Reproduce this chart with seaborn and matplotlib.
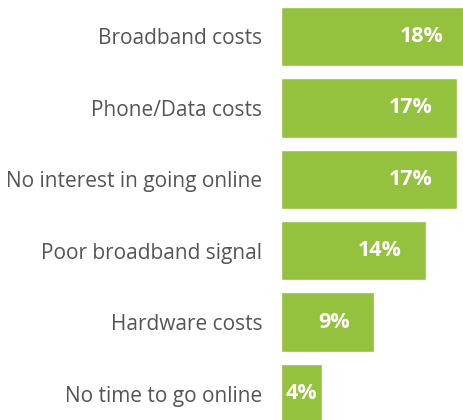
import matplotlib
matplotlib.use("Agg")
import matplotlib.pyplot as plt
import seaborn as sns
import pandas as pd

# Reasons for not going online (%)
reasons = [
    "Broadband costs",
    "Phone/Data costs",
    "No interest in going online",
    "Poor broadband signal",
    "Hardware costs",
    "No time to go online",
]
shares = [18, 17, 17, 14, 9, 4]

df = pd.DataFrame({"reason": reasons, "share": shares})

sns.set_style("white")
plt.rcParams["font.family"] = ["Open Sans", "DejaVu Sans"]

fig = plt.figure(figsize=(4.64, 4.2), dpi=100)
ax = fig.add_axes([281 / 464, 0, 1 - 281 / 464, 1])

sns.barplot(data=df, x="share", y="reason", color="#94C23E", width=0.83,
            saturation=1, ax=ax)

ax.set_xlim(0, 17.7)
ax.set_ylim(5.371, -0.511)
ax.set_xlabel("")
ax.set_ylabel("")
ax.set_xticks([])
ax.tick_params(axis="y", length=0, pad=13.5, labelsize=15, labelcolor="#555555")
sns.despine(ax=ax, left=True, bottom=True)

for i, v in enumerate(shares):
    if v >= 6:
        ax.text(v - 2.3, i, f"{v}%", ha="right", va="center",
                color="white", fontsize=15.5, fontweight="bold")
    else:
        ax.text(v / 2, i, f"{v}%", ha="center", va="center",
                color="white", fontsize=15.5, fontweight="bold")

fig.savefig("out.png", dpi=100)
